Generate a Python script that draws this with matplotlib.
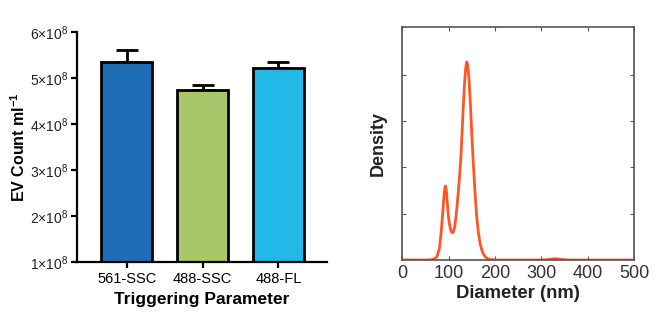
import numpy as np
import matplotlib
matplotlib.use('Agg')
import matplotlib.pyplot as plt

plt.rcParams['font.family'] = ['Liberation Sans', 'DejaVu Sans']
plt.rcParams['mathtext.fontset'] = 'custom'
plt.rcParams['mathtext.rm'] = 'Liberation Sans'
plt.rcParams['mathtext.bf'] = 'Liberation Sans:bold'

# bar chart data
params = ['561-SSC', '488-SSC', '488-FL']
counts = [5.35e8, 4.75e8, 5.22e8]
errs = [0.25e8, 0.09e8, 0.13e8]
bar_colors = ['#1f6db4', '#a9c76a', '#22b9e8']
ytick_vals = [1e8, 2e8, 3e8, 4e8, 5e8, 6e8]

# density curve (diameter nm, density a.u.)
diam = [0, 50, 60, 65, 70, 75, 80, 84, 87, 90, 92, 93, 95, 97, 99, 101, 104, 107,
        110, 113, 116, 118, 120, 122, 124, 126, 128, 131, 134, 137, 139, 141, 144,
        147, 150, 153, 156, 160, 164, 168, 172, 176, 180, 185, 190, 200, 300, 315,
        330, 345, 360, 500]
dens = [0, 0, 0.003, 0.01, 0.03, 0.08, 0.25, 0.62, 1.0, 1.4, 1.57, 1.6, 1.5, 1.25,
        1.0, 0.82, 0.66, 0.59, 0.6, 0.72, 0.95, 1.15, 1.38, 1.62, 1.88, 2.16, 2.55,
        3.2, 3.78, 4.17, 4.28, 4.22, 3.9, 3.35, 2.7, 2.14, 1.6, 1.0, 0.6, 0.35, 0.2,
        0.11, 0.06, 0.025, 0.01, 0, 0, 0.01, 0.03, 0.01, 0, 0]

fig = plt.figure(figsize=(6.65, 3.22), dpi=100)

# left panel
ax1 = fig.add_axes([0.1158, 0.1863, 0.3759, 0.7143])
x = np.arange(len(params))
ax1.bar(x, counts, width=0.68, color=bar_colors, edgecolor='black', linewidth=2, zorder=2)
ax1.errorbar(x, counts, yerr=[np.zeros(3), errs], fmt='none', ecolor='black',
             elinewidth=2, capsize=8, capthick=2, zorder=1)
ax1.set_ylim(1e8, 6e8)
ax1.set_xlim(-0.654, 2.64)
ax1.set_yticks(ytick_vals)
ax1.set_yticklabels([r'$%d{\times}10^{8}$' % int(v / 1e8) for v in ytick_vals],
                    fontsize=10, color='#222222')
ax1.set_xticks(x)
ax1.set_xticklabels(params, fontsize=10.5)
for s in ['top', 'right']:
    ax1.spines[s].set_visible(False)
for s in ['left', 'bottom']:
    ax1.spines[s].set_linewidth(1.6)
ax1.tick_params(width=1.6, length=4)
ax1.tick_params(axis='y', pad=2)
ax1.set_xlabel('Triggering Parameter', fontsize=12.5, fontweight='bold')
ax1.set_ylabel(r'EV Count ml$^{\mathbf{-1}}$', fontsize=11.5, fontweight='bold',
               labelpad=2)

# right panel
ax2 = fig.add_axes([0.605, 0.1925, 0.3484, 0.7245])
ax2.plot(diam, dens, color='#ff5626', linewidth=2)
ax2.set_xlim(0, 500)
ax2.set_ylim(0, 5.04)
ax2.set_xticks([0, 100, 200, 300, 400, 500])
ax2.set_yticks([1, 2, 3, 4])
ax2.set_yticklabels([])
ax2.tick_params(direction='in', top=True, right=True, length=3, color='#555555',
                labelsize=13, labelcolor='#333333')
for s in ax2.spines.values():
    s.set_color('#555555')
    s.set_linewidth(1.2)
ax2.set_xlabel('Diameter (nm)', fontsize=13.3, fontweight='bold', color='#222222',
               labelpad=2)
ax2.set_ylabel('Density', fontsize=13, fontweight='bold', color='#222222', labelpad=8)

fig.savefig('out.png', dpi=100)
